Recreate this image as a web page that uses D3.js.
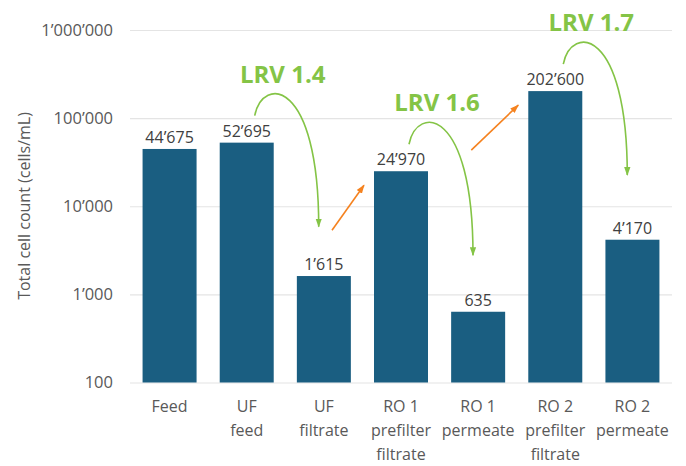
<!DOCTYPE html>
<html>
<head>
<meta charset="utf-8">
<script src="https://cdn.jsdelivr.net/npm/d3@7"></script>
<style>
  body { margin: 0; background: #fff; }
  svg text { font-family: "Open Sans", "DejaVu Sans", sans-serif; }
</style>
</head>
<body>
<svg id="chart"></svg>
<script>
// data
var categories = [["Feed"], ["UF", "feed"], ["UF", "filtrate"], ["RO 1", "prefilter", "filtrate"],
                  ["RO 1", "permeate"], ["RO 2", "prefilter", "filtrate"], ["RO 2", "permeate"]];
var cellCounts = [44675, 52695, 1615, 24970, 635, 202600, 4170];
var yTicks = [100, 1000, 10000, 100000, 1000000];
var lrvSteps = [{ from: 1, to: 2, lrv: "1.4" }, { from: 3, to: 4, lrv: "1.6" }, { from: 5, to: 6, lrv: "1.7" }];
var increases = [{ from: 2, to: 3 }, { from: 4, to: 5 }];

var svgWidth = 686, svgHeight = 466;
var barColor = "#1a5e81", green = "#84c446", orange = "#f5821f";

var svg = d3.select("#chart")
    .attr("width", svgWidth)
    .attr("height", svgHeight);

svg.append("rect")
    .attr("width", "100%")
    .attr("height", "100%")
    .attr("fill", "white");

var x = d3.scaleBand()
    .domain(d3.range(categories.length))
    .range([131, 671])
    .paddingInner(0.3)
    .paddingOuter(0.15);

var y = d3.scaleLog()
    .domain([100, 1000000])
    .range([382.5, 30]);

var fmt = function (v) { return d3.format(",")(v).replace(/,/g, "\u2019"); };

// gridlines + y labels
var yAxis = d3.axisLeft(y)
    .tickValues(yTicks)
    .tickFormat(fmt)
    .tickSize(-542)
    .tickPadding(17);

var gy = svg.append("g")
    .attr("transform", "translate(130,0)")
    .call(yAxis);
gy.select(".domain").remove();
gy.selectAll(".tick line").attr("stroke", "#e4e4e4").attr("stroke-width", 1.2);
gy.selectAll(".tick text")
    .attr("fill", "#595959")
    .attr("font-size", "16.5px");

svg.append("text")
    .attr("transform", "translate(30,206) rotate(-90)")
    .attr("text-anchor", "middle")
    .attr("fill", "#595959")
    .attr("font-size", "16px")
    .text("Total cell count (cells/mL)");

// bars
svg.selectAll("rect.bar")
    .data(cellCounts)
    .enter().append("rect")
    .attr("class", "bar")
    .attr("x", function (d, i) { return x(i); })
    .attr("width", x.bandwidth())
    .attr("y", function (d) { return y(d); })
    .attr("height", function (d) { return y(100) - y(d); })
    .attr("fill", barColor);

svg.selectAll("text.val")
    .data(cellCounts)
    .enter().append("text")
    .attr("class", "val")
    .attr("x", function (d, i) { return x(i) + x.bandwidth() / 2; })
    .attr("y", function (d) { return y(d) - 6; })
    .attr("text-anchor", "middle")
    .attr("fill", "#404040")
    .attr("font-size", "16px")
    .text(fmt);

// category labels
var cat = svg.selectAll("text.cat")
    .data(categories)
    .enter().append("text")
    .attr("class", "cat")
    .attr("text-anchor", "middle")
    .attr("fill", "#595959")
    .attr("font-size", "16px");
cat.selectAll("tspan")
    .data(function (d, i) { return d.map(function (s) { return { s: s, i: i }; }); })
    .enter().append("tspan")
    .attr("x", function (d) { return x(d.i) + x.bandwidth() / 2; })
    .attr("y", function (d, j) { return 412 + j * 24; })
    .text(function (d) { return d.s; });

// arrowheads
var defs = svg.append("defs");
function head(id, col) {
    defs.append("marker")
        .attr("id", id)
        .attr("markerUnits", "userSpaceOnUse")
        .attr("viewBox", "0 0 10 10")
        .attr("refX", 9).attr("refY", 5)
        .attr("markerWidth", 9).attr("markerHeight", 9)
        .attr("orient", "auto")
        .append("path")
        .attr("d", "M0,1.5 L10,5 L0,8.5 Z")
        .attr("fill", col);
}
head("hg", green);
head("ho", orange);

// LRV curved arrows
lrvSteps.forEach(function (s) {
    var sx = x(s.from) + x.bandwidth() / 2 + 8;
    var sy = y(cellCounts[s.from]) - 27;
    svg.append("path")
        .attr("d", "M" + sx + "," + sy + " c8,-40 64,-37 64,111")
        .attr("fill", "none")
        .attr("stroke", green)
        .attr("stroke-width", 1.6)
        .attr("marker-end", "url(#hg)");
    svg.append("text")
        .attr("x", sx + 28)
        .attr("y", sy - 33)
        .attr("text-anchor", "middle")
        .attr("fill", green)
        .attr("font-size", "24px")
        .attr("font-weight", "bold")
        .text("LRV " + s.lrv);
});

// orange increase arrows
var oLen = [32, 47];
increases.forEach(function (s, k) {
    var ex = x(s.to) - 10;
    var ey = y(cellCounts[s.to]) + 14;
    svg.append("line")
        .attr("x1", ex - oLen[k]).attr("y1", ey + 45)
        .attr("x2", ex).attr("y2", ey)
        .attr("stroke", orange)
        .attr("stroke-width", 1.6)
        .attr("marker-end", "url(#ho)");
});
</script>
</body>
</html>
